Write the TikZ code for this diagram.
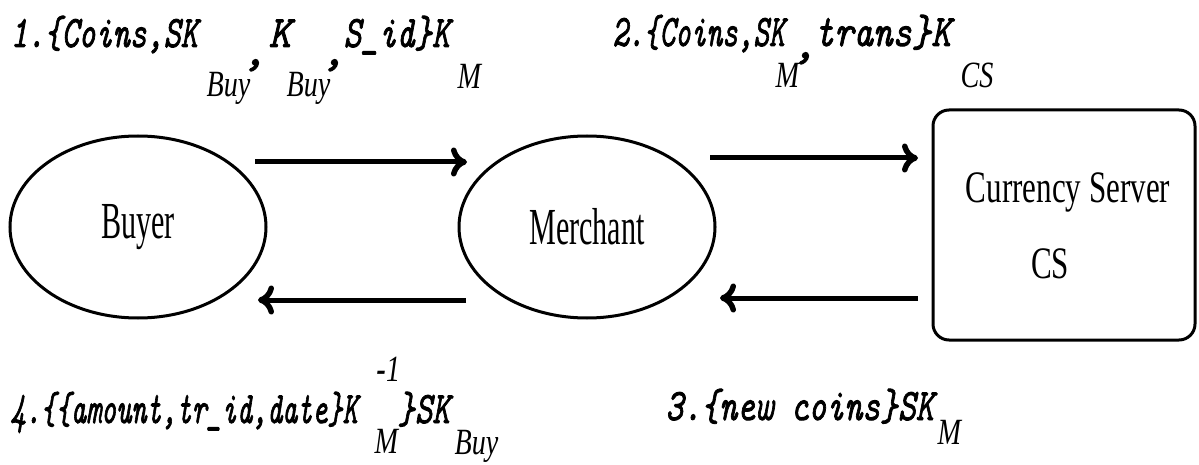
\documentclass[tikz,border=0pt]{standalone}
\usepackage{fontspec}
\usepackage{graphicx}
\usetikzlibrary{arrows.meta,shapes.geometric}
% Fonts: slanted typewriter face for the messages, condensed serif elsewhere
\newfontfamily\msgfam[FakeBold=2]{lmmono10-italic.otf}
\newfontfamily\subfam[FakeStretch=0.76]{Liberation Serif}
\newfontfamily\partyfam[FakeStretch=0.58]{Liberation Serif}
\newfontfamily\serverfam[FakeStretch=0.69]{Liberation Serif}
\newcommand\msgtxt[1]{{\msgfam\fontsize{45}{47}\selectfont #1}}
\newcommand\subtxt[1]{{\subfam\itshape\fontsize{37}{39}\selectfont #1}}
% a run of message text squeezed to a given width
\newcommand\seg[2]{\resizebox{#1}{\height}{\msgtxt{#2}}}
% place a piece of a label at an offset (right, up) from the label origin
\newcommand\piece[3]{\rlap{\hspace*{#1}\raisebox{#2}[0pt][0pt]{#3}}}

\begin{document}
\begin{tikzpicture}[x=1pt,y=-1pt,
  party/.style={draw,line width=3pt,ellipse,minimum width=256pt,minimum height=182pt,
    font=\partyfam\fontsize{52}{54}\selectfont},
  server/.style={draw,line width=3pt,rounded corners=16pt,minimum width=262pt,minimum height=230pt,
    font=\serverfam\fontsize{45}{76}\selectfont},
  flow/.style={line width=5pt,-{Computer Modern Rightarrow[length=16pt,width=29pt,line width=5.5pt]}},
  msglabel/.style={anchor=base west,inner sep=0pt}]
\useasboundingbox (0,0) rectangle (1199,465);

% parties
\node[party] (buyer) at (138,227) {Buyer};
\node[party] (merchant) at (587,227) {Merchant};
\node[server] (cs) at (1064,225) {\raisebox{-31pt}{\begin{tabular}{@{}c@{}}
  \hspace*{8pt}Currency Server\\ \hspace*{-28pt}CS\end{tabular}}};

% arrow end points
\coordinate (b1) at (255,162);
\coordinate (m1) at (467,162);
\coordinate (m2) at (710,158);
\coordinate (s2) at (918,158);
\coordinate (s3) at (918,298);
\coordinate (m3) at (720,298);
\coordinate (m4) at (466,300);
\coordinate (b4) at (258,300);

\draw[flow] (b1) -- (m1);
\draw[flow] (m2) -- (s2);
\draw[flow] (s3) -- (m3);
\draw[flow] (m4) -- (b4);

% message labels
\node[msglabel] (msg1) at (10,47) {%
  \piece{0pt}{0pt}{\seg{187pt}{1.\{Coins,SK}}%
  \piece{196pt}{-50pt}{\subtxt{Buy}}%
  \piece{232pt}{-18pt}{\msgtxt{,}}%
  \piece{258pt}{0pt}{\seg{22pt}{K}}%
  \piece{276pt}{-50pt}{\subtxt{Buy}}%
  \piece{311pt}{-18pt}{\msgtxt{,}}%
  \piece{333pt}{0pt}{\seg{106pt}{S\_id\}K}}%
  \piece{447pt}{-42pt}{\subtxt{M}}};

\node[msglabel] (msg2) at (612,46) {%
  \piece{0pt}{0pt}{\seg{172pt}{2.\{Coins,SK}}%
  \piece{163pt}{-42pt}{\subtxt{M}}%
  \piece{180pt}{-12pt}{\msgtxt{,}}%
  \piece{202pt}{0pt}{\seg{136pt}{trans\}K}}%
  \piece{348pt}{-42pt}{\subtxt{CS}}};

\node[msglabel] (msg3) at (665,420) {%
  \piece{0pt}{0pt}{\seg{268pt}{3.\{new coins\}SK}}%
  \piece{272pt}{-24pt}{\subtxt{M}}};

\node[msglabel] (msg4) at (10,423) {%
  \piece{0pt}{0pt}{\seg{347pt}{4.\{\{amount,tr\_id,date\}K}}%
  \piece{364pt}{-30pt}{\subtxt{M}}%
  \piece{366pt}{42pt}{\subtxt{\textbf{-}1}}%
  \piece{387pt}{0pt}{\seg{52pt}{\}SK}}%
  \piece{444pt}{-31pt}{\subtxt{Buy}}};
\end{tikzpicture}
\end{document}
